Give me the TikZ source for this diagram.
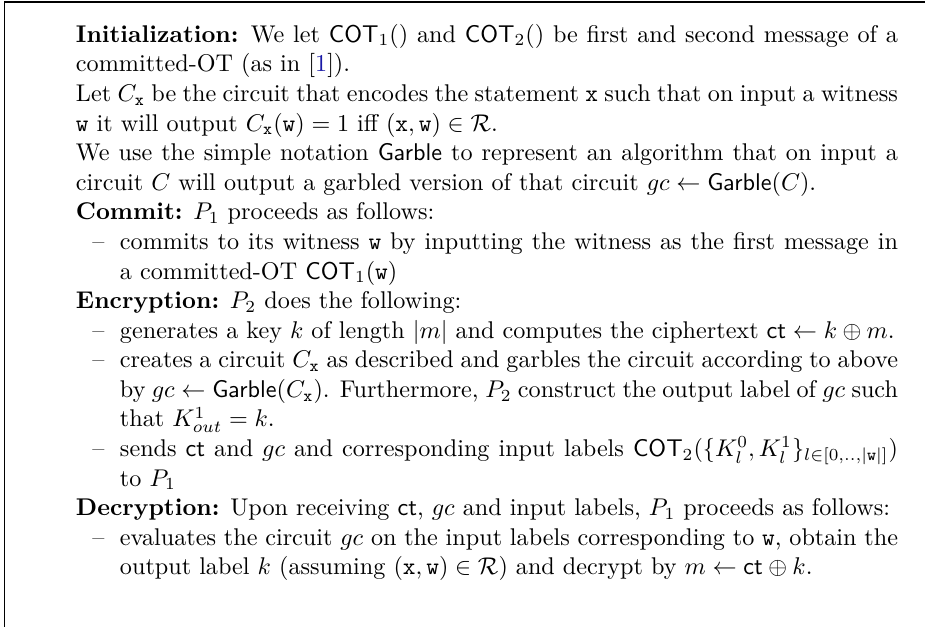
\documentclass[tikz,border=0pt]{standalone}
\usepackage{amsmath,amssymb}
\usepackage{xcolor}
\definecolor{citeblue}{rgb}{0.1,0.1,0.65}
\newenvironment{dashlist}{\begin{list}{--}{\setlength{\leftmargin}{18.2pt}\setlength{\labelwidth}{11.74pt}\setlength{\labelsep}{6.46pt}\setlength{\itemsep}{0pt}\setlength{\parsep}{0pt}\setlength{\topsep}{0pt}\setlength{\partopsep}{0pt}\setlength{\itemindent}{0pt}\setlength{\listparindent}{0pt}\setlength{\rightmargin}{0pt}}}{\end{list}}
\tikzset{
  frame/.style={line width=0.42pt, black},
  bodytext/.style={anchor=north west, inner sep=0pt, outer sep=0pt, text width=340pt, align=justify, font={\fontsize{10}{12.24}\selectfont}}
}
\begin{document}
\begin{tikzpicture}[x=1pt,y=1pt]
\useasboundingbox (0,0) rectangle (382.6,259.3);
\coordinate (tl) at (1.94,258.47);
\coordinate (tr) at (382.6,258.47);
\coordinate (bl) at (1.94,0);
\draw[frame] (bl) -- (tl) -- (tr);
\node[bodytext] (body) at (31.43,249.3) {\setlength{\parindent}{0pt}\setlength{\parskip}{0pt}%
\textbf{Initialization:} We let $\mathsf{COT}_1()$ and $\mathsf{COT}_2()$ be first and second message of a\linebreak committed-OT (as in [{\color{citeblue}1}]).\par
Let $C_{\mathtt{x}}$ be the circuit that encodes the statement $\mathtt{x}$ such that on input a witness\linebreak $\mathtt{w}$ it will output $C_{\mathtt{x}}(\mathtt{w}) = 1$ iff $(\mathtt{x},\mathtt{w}) \in \mathcal{R}$.\par
We use the simple notation $\mathsf{Garble}$ to represent an algorithm that on input a\linebreak circuit $C$ will output a garbled version of that circuit $gc \leftarrow \mathsf{Garble}(C)$.\par
\textbf{Commit:} $P_1$ proceeds as follows:
\begin{dashlist}
\item commits to its witness $\mathtt{w}$ by inputting the witness as the first message in\linebreak a committed-OT $\mathsf{COT}_1(\mathtt{w})$
\end{dashlist}
\textbf{Encryption:} $P_2$ does the following:
\begin{dashlist}
\item generates a key $k$ of length $|m|$ and computes the ciphertext $\mathsf{ct} \leftarrow k \oplus m$.
\item creates a circuit $C_{\mathtt{x}}$ as described and garbles the circuit according to above\linebreak by $gc \leftarrow \mathsf{Garble}(C_{\mathtt{x}})$. Furthermore, $P_2$ construct the output label of $gc$ such\linebreak that $K^1_{out} = k$.
\item sends $\mathsf{ct}$ and $gc$ and corresponding input labels $\mathsf{COT}_2(\{K^0_l,K^1_l\}_{l\in[0,..,|\mathtt{w}|]})$\linebreak to $P_1$
\end{dashlist}
\textbf{Decryption:} Upon receiving $\mathsf{ct}$, $gc$ and input labels, $P_1$ proceeds as follows:
\begin{dashlist}
\item evaluates the circuit $gc$ on the input labels corresponding to $\mathtt{w}$, obtain the\linebreak output label $k$ (assuming $(\mathtt{x},\mathtt{w}) \in \mathcal{R}$) and decrypt by $m \leftarrow \mathsf{ct} \oplus k$.
\end{dashlist}
};
\end{tikzpicture}
\end{document}
